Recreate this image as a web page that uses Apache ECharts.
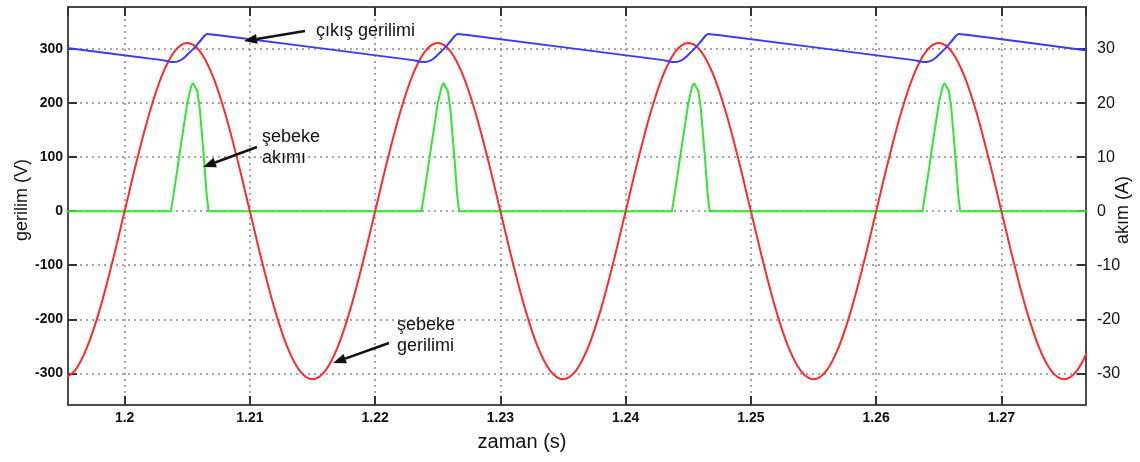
<!DOCTYPE html>
<html><head><meta charset="utf-8">
<script src="https://cdn.jsdelivr.net/npm/echarts@6/dist/echarts.min.js"></script>
<style>html,body{margin:0;padding:0;background:#fff}#c{width:1140px;height:462px}</style>
</head><body><div id="c"></div>
<script>
// ---- data ----
const redTime = [1.195,1.196,1.197,1.198,1.199,1.200,1.201,1.202,1.203,1.204,1.205,1.206,1.207,1.208,1.209,
1.210,1.211,1.212,1.213,1.214,1.215,1.216,1.217,1.218,1.219,1.220,1.221,1.222,1.223,1.224,1.225,1.226,1.227,1.228,1.229,
1.230,1.231,1.232,1.233,1.234,1.235,1.236,1.237,1.238,1.239,1.240,1.241,1.242,1.243,1.244,1.245,1.246,1.247,1.248,1.249,
1.250,1.251,1.252,1.253,1.254,1.255,1.256,1.257,1.258,1.259,1.260,1.261,1.262,1.263,1.264,1.265,1.266,1.267,1.268,1.269,
1.270,1.271,1.272,1.273,1.274,1.275,1.276,1.277];
const redVolt = [-311,-296,-252,-183,-96,
0,96,183,252,296,311,296,252,183,96,0,-96,-183,-252,-296,-311,-296,-252,-183,-96,
0,96,183,252,296,311,296,252,183,96,0,-96,-183,-252,-296,-311,-296,-252,-183,-96,
0,96,183,252,296,311,296,252,183,96,0,-96,-183,-252,-296,-311,-296,-252,-183,-96,
0,96,183,252,296,311,296,252,183,96,0,-96,-183,-252,-296,-311,-296,-252];

const blueTime = [1.1950,
1.2030,1.2035,1.2040,1.2044,1.2048,1.2052,1.2056,1.2060,1.2064,1.2066,1.2072,
1.2230,1.2235,1.2240,1.2244,1.2248,1.2252,1.2256,1.2260,1.2264,1.2266,1.2272,
1.2430,1.2435,1.2440,1.2444,1.2448,1.2452,1.2456,1.2460,1.2464,1.2466,1.2472,
1.2630,1.2635,1.2640,1.2644,1.2648,1.2652,1.2656,1.2660,1.2664,1.2666,1.2672,
1.2770];
const blueVolt = [303,
279.5,277,276,278.5,285,294,303,314,325,328,326.5,
279.5,277,276,278.5,285,294,303,314,325,328,326.5,
279.5,277,276,278.5,285,294,303,314,325,328,326.5,
279.5,277,276,278.5,285,294,303,314,325,328,326.5,
297];

const greenTime = [1.1950,
1.2037,1.2040,1.2044,1.2048,1.2050,1.2053,1.20545,1.2056,1.2058,1.2060,1.2063,1.20655,1.2067,
1.2237,1.2240,1.2244,1.2248,1.2250,1.2253,1.22545,1.2256,1.2258,1.2260,1.2263,1.22655,1.2267,
1.2437,1.2440,1.2444,1.2448,1.2450,1.2453,1.24545,1.2456,1.2458,1.2460,1.2463,1.24655,1.2467,
1.2637,1.2640,1.2644,1.2648,1.2650,1.2653,1.26545,1.2656,1.2658,1.2660,1.2663,1.26655,1.2667,
1.2770];
const greenAmp = [0,
0,4.5,10.8,16.9,20,23,23.7,23.7,22.3,19,10.8,3,0,
0,4.5,10.8,16.9,20,23,23.7,23.7,22.3,19,10.8,3,0,
0,4.5,10.8,16.9,20,23,23.7,23.7,22.3,19,10.8,3,0,
0,4.5,10.8,16.9,20,23,23.7,23.7,22.3,19,10.8,3,0,
0];

const xRange = [1.19548, 1.27675];
const yLeftRange = [-358.6, 377.8];
const yRightRange = [-35.86, 37.78];

const xTitle = 'zaman (s)';
const yLeftTitle = 'gerilim (V)';
const yRightTitle = 'akım (A)';
const annOut = 'çıkış gerilimi';
const annCurrent = ['şebeke', 'akımı'];
const annGrid = ['şebeke', 'gerilimi'];

// ---- build ----
const zip = (a, b) => a.map((t, i) => [t, b[i]]);
const FONT = '"Liberation Sans", Arial, sans-serif';
const frame = { show: true, onZero: false, lineStyle: { color: '#4a4a4a', width: 2 } };
const tick = { show: true, inside: true, length: 9, lineStyle: { color: '#333', width: 2 } };
const dotted = { show: true, lineStyle: { color: '#8a8a8a', width: 1.5, type: [2, 4] } };

function arrow(x1, y1, x2, y2) {
  const ang = Math.atan2(y2 - y1, x2 - x1);
  const L = 13, W = 5;
  const bx = x2 - L * Math.cos(ang), by = y2 - L * Math.sin(ang);
  const px = -Math.sin(ang) * W, py = Math.cos(ang) * W;
  return [
    { type: 'line', shape: { x1: x1, y1: y1, x2: bx, y2: by }, style: { stroke: '#111', lineWidth: 2.5 }, z: 100 },
    { type: 'polygon', shape: { points: [[x2, y2], [bx + px, by + py], [bx - px, by - py]] }, style: { fill: '#111' }, z: 100 }
  ];
}
function txt(s, x, y, size, extra) {
  return Object.assign({ type: 'text', x: x, y: y, z: 100,
    style: { text: s, font: (size || 16) + 'px ' + FONT, fill: '#111', textAlign: 'left', textVerticalAlign: 'middle' } }, extra || {});
}

const chart = echarts.init(document.getElementById('c'));
chart.setOption({
  backgroundColor: '#ffffff',
  animation: false,
  grid: { left: 68, right: 54, top: 7, bottom: 57 },
  xAxis: [
    { type: 'value', position: 'bottom', min: xRange[0], max: xRange[1], splitNumber: 8,
      axisLine: frame, axisTick: tick, splitLine: dotted,
      axisLabel: { color: '#111', fontFamily: FONT, fontSize: 14, fontWeight: 'bold', margin: 6, showMinLabel: false, showMaxLabel: false } },
    { type: 'value', position: 'top', min: xRange[0], max: xRange[1], splitNumber: 8,
      axisLine: frame, axisTick: tick, splitLine: { show: false }, axisLabel: { show: false } }
  ],
  yAxis: [
    { type: 'value', position: 'left', min: yLeftRange[0], max: yLeftRange[1], splitNumber: 7,
      axisLine: frame, axisTick: tick, splitLine: dotted,
      axisLabel: { color: '#111', fontFamily: FONT, fontSize: 14, fontWeight: 'bold', margin: 5, showMinLabel: false, showMaxLabel: false } },
    { type: 'value', position: 'right', min: yRightRange[0], max: yRightRange[1], splitNumber: 7,
      axisLine: frame, axisTick: tick, splitLine: { show: false },
      axisLabel: { color: '#111', fontFamily: FONT, fontSize: 16, margin: 11, showMinLabel: false, showMaxLabel: false } }
  ],
  series: [
    { type: 'line', name: 'şebeke akımı', yAxisIndex: 1, data: zip(greenTime, greenAmp), showSymbol: false,
      lineStyle: { color: '#2ee82e', width: 2 }, z: 2 },
    { type: 'line', name: 'şebeke gerilimi', data: zip(redTime, redVolt), showSymbol: false, smooth: 0.35,
      lineStyle: { color: '#ff2a2a', width: 2 }, z: 3 },
    { type: 'line', name: 'çıkış gerilimi', data: zip(blueTime, blueVolt), showSymbol: false, smooth: 0.2,
      lineStyle: { color: '#3a3aff', width: 2 }, z: 4 }
  ],
  graphic: [].concat(
    arrow(305, 31, 244, 41),
    arrow(257, 147, 203, 167),
    arrow(389, 343, 333, 363),
    [
      txt(annOut, 316, 31, 18),
      txt(annCurrent[0], 262, 137, 18),
      txt(annCurrent[1], 262, 158, 18),
      txt(annGrid[0], 397, 325, 18),
      txt(annGrid[1], 397, 346, 18),
      txt(xTitle, 522, 442, 20, { style: { text: xTitle, font: '20px ' + FONT, fill: '#111', textAlign: 'center', textVerticalAlign: 'middle' } }),
      txt(yLeftTitle, 22, 200, 18, { rotation: Math.PI / 2, style: { text: yLeftTitle, font: '18px ' + FONT, fill: '#111', textAlign: 'center', textVerticalAlign: 'middle' } }),
      txt(yRightTitle, 1123, 210, 18, { rotation: Math.PI / 2, style: { text: yRightTitle, font: '18px ' + FONT, fill: '#111', textAlign: 'center', textVerticalAlign: 'middle' } })
    ]
  )
});
</script>
</body></html>
